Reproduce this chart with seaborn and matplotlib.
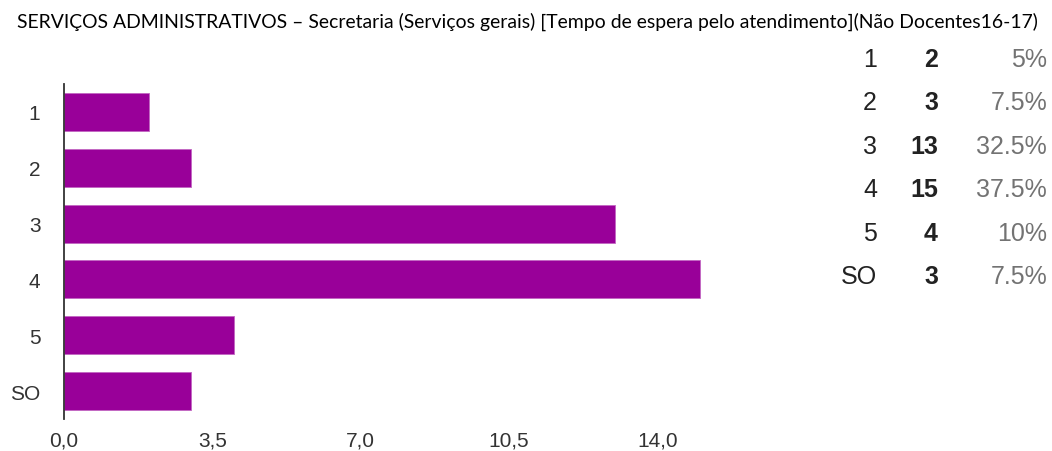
import matplotlib
matplotlib.use('Agg')
import matplotlib.pyplot as plt
import seaborn as sns
import pandas as pd

# data
categories = ['1', '2', '3', '4', '5', 'SO']
counts = [2, 3, 13, 15, 4, 3]
x_ticks = [0, 3.5, 7, 10.5, 14]
title = ('SERVIÇOS ADMINISTRATIVOS – Secretaria (Serviços gerais) '
         '[Tempo de espera pelo atendimento](Não Docentes16-17)')

df = pd.DataFrame({'resposta': categories, 'n': counts})
total = sum(counts)

sns.set_style('white')
plt.rcParams['font.family'] = ['Liberation Sans', 'DejaVu Sans']

fig = plt.figure(figsize=(10.52, 4.52), dpi=100)
ax = fig.add_axes([64 / 1052, 32 / 452, 678 / 1052, 335 / 452])

sns.barplot(data=df, y='resposta', x='n', order=categories, color='#990099',
            width=0.68, saturation=1, orient='h', ax=ax,
            edgecolor='#c266c2', linewidth=0.6)

ax.set_xlim(0, 16)
ax.set_ylim(5.5, -0.5)
ax.set_xticks(x_ticks)
ax.set_xticklabels([f'{t:.1f}'.replace('.', ',') for t in x_ticks])
ax.set_xlabel('')
ax.set_ylabel('')
ax.tick_params(axis='both', length=0, labelsize=15, colors='#333333')
ax.tick_params(axis='y', pad=17)
ax.tick_params(axis='x', pad=8)
for s in ['top', 'right', 'bottom']:
    ax.spines[s].set_visible(False)
ax.spines['left'].set_color('#333333')
ax.spines['left'].set_linewidth(1.3)

# title, fit to the reference width
t = fig.text(527 / 1052, 1 - 22 / 452, title, ha='center', va='center',
             fontsize=13, family=['Lato', 'DejaVu Sans'], color='black')
fig.canvas.draw()
w = t.get_window_extent().width
t.set_fontsize(13 * 1019 / w)

# summary table on the right
row0, pitch = 60, 43.4
for i, (c, n) in enumerate(zip(categories, counts)):
    y = 1 - (row0 + i * pitch) / 452
    pct = f'{100 * n / total:g}%'
    fig.text(877 / 1052, y, c, ha='right', va='center', fontsize=18, color='#222222')
    fig.text(938 / 1052, y, str(n), ha='right', va='center', fontsize=18,
             fontweight='bold', color='#222222')
    fig.text(1047 / 1052, y, pct, ha='right', va='center', fontsize=18, color='#737373')

fig.savefig('out.png', dpi=100)
